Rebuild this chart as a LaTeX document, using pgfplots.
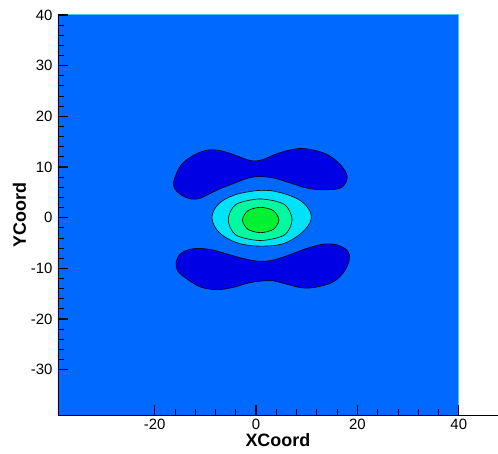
\documentclass[border=0pt]{standalone}
\usepackage{pgfplots}
\pgfplotsset{compat=1.18}
\usepackage{fontspec}
\setmainfont{Liberation Sans}
\definecolor{bgblue}{RGB}{0,105,255}
\definecolor{lowblue}{RGB}{0,0,228}
\definecolor{cyanlvl}{RGB}{0,225,250}
\definecolor{aqualvl}{RGB}{0,250,160}
\definecolor{greenlvl}{RGB}{0,240,50}
\begin{document}
\begin{tikzpicture}
\begin{axis}[
  scale only axis, width=440bp, height=400bp,
  xmin=-39.1, xmax=47.7, ymin=-38.9, ymax=40,
  axis x line=bottom, axis y line=left,
  x axis line style={-}, y axis line style={-},
  every axis line/.append style={line width=1.2bp, black},
  axis on top,
  tick align=inside,
  xtick={-20,0,20,40}, ytick={-30,-20,...,40},
  minor x tick num=4, minor y tick num=4,
  major tick length=10bp, minor tick length=6bp,
  every major tick/.append style={line width=1.3bp, black},
  every minor tick/.append style={line width=0.9bp, black},
  /pgf/number format/assume math mode=true,
  ticklabel style={font=\fontsize{15}{17}\selectfont},
  xticklabel style={yshift=-1bp},
  yticklabel style={xshift=-2bp},
  xlabel={\textbf{XCoord}}, ylabel={\textbf{YCoord}},
  label style={font=\fontsize{18}{20}\selectfont},
  xlabel style={yshift=3.5bp},
  ylabel style={yshift=-2bp},
]
% background field
\addplot[fill=bgblue, draw=cyan!70!white, line width=1bp] coordinates {(-42,-42) (40,-42) (40,40) (-42,40)} -- cycle;
% upper negative lobe
\addplot[fill=lowblue, draw=black, line width=0.6bp, smooth cycle, tension=0.6] coordinates {
(-16.2,7.4) (-16.1,5.8) (-14.8,4.5) (-12.8,3.7) (-10.9,3.9) (-7.6,5.5) (-4.3,6.8) (-1.6,7.8) (0.7,8.1) (3.6,7.8) (6.9,6.8) (10.2,5.8) (13.5,5.5) (16.5,5.8) (17.8,7.1) (17.8,8.8) (16.1,11.0) (13.5,12.7) (10.2,13.55) (7.6,13.55) (4.3,12.7) (1.7,11.6) (0,11.2) (-1.6,11.4) (-4.3,12.4) (-6.9,13.2) (-9.5,13.35) (-12.2,12.4) (-14.8,10.4)
};
% lower negative lobe
\addplot[fill=lowblue, draw=black, line width=0.6bp, smooth cycle, tension=0.6] coordinates {
(-15.8,-8.9) (-14.8,-7.0) (-12.2,-6.1) (-8.9,-6.3) (-5.6,-7.2) (-2.3,-8.1) (0.7,-8.6) (3.6,-8.3) (6.9,-7.2) (10.2,-6.0) (13.5,-5.2) (16.1,-5.4) (18.1,-6.6) (18.4,-8.3) (17.4,-10.6) (15.5,-12.5) (12.8,-13.5) (9.6,-13.9) (6.3,-13.2) (3.6,-12.5) (1.0,-12.5) (-1.6,-12.9) (-4.3,-13.7) (-7.6,-14.2) (-10.9,-13.7) (-13.5,-12.2) (-15.4,-10.6)
};
% central positive peak
\addplot[fill=cyanlvl, draw=black, line width=0.6bp, smooth cycle, tension=0.6] coordinates {
(-8.7,-0.1) (-7.5,2.6) (-4.2,4.5) (1.0,5.4) (5.0,4.9) (9.0,3.2) (10.9,0.4) (9.6,-2.4) (5.7,-5.0) (1.0,-5.6) (-3.6,-5.0) (-7.2,-3.0)
};
\addplot[fill=aqualvl, draw=black, line width=0.6bp, smooth cycle] coordinates {
(-5.5,-0.4) (-4.0,2.6) (0.8,3.7) (5.6,2.6) (7.1,-0.4) (5.6,-3.4) (0.8,-4.5) (-4.0,-3.4)
};
\addplot[fill=greenlvl, draw=black, line width=0.6bp, smooth cycle] coordinates {
(-2.7,-0.45) (-1.6,1.4) (0.9,2.05) (3.4,1.4) (4.5,-0.45) (3.4,-2.3) (0.9,-2.95) (-1.6,-2.3)
};
\end{axis}
\path ([xshift=-58bp,yshift=-39bp]current axis.south west) rectangle ++(498bp,454bp);
\end{tikzpicture}
\end{document}
